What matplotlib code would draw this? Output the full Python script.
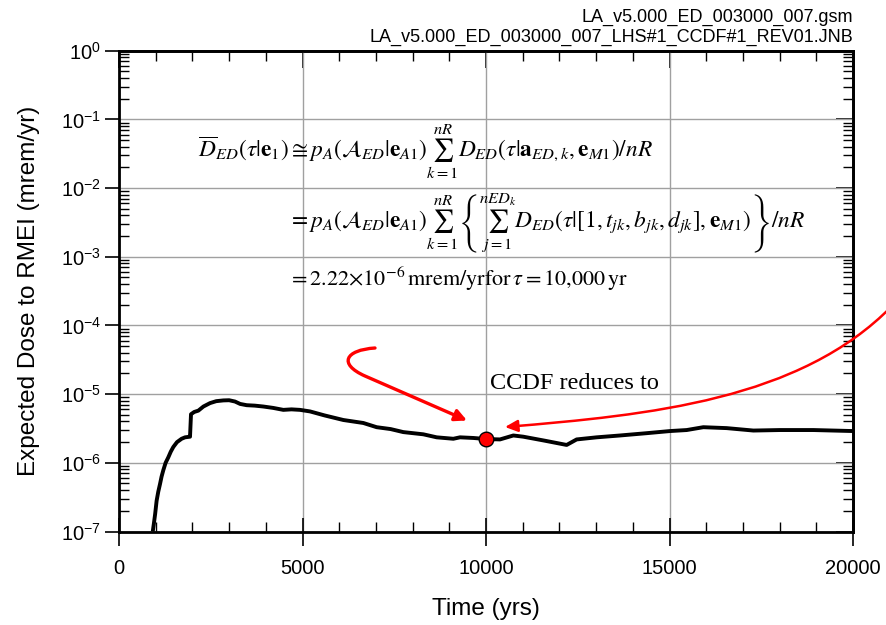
import matplotlib
matplotlib.use("Agg")
import matplotlib.pyplot as plt
from matplotlib.path import Path
from matplotlib.patches import FancyArrowPatch
from matplotlib.ticker import LogLocator, MultipleLocator, NullFormatter

plt.rcParams['font.family'] = ['Liberation Sans', 'DejaVu Sans']
plt.rcParams['mathtext.fontset'] = 'custom'
plt.rcParams['mathtext.rm'] = 'Liberation Sans'
plt.rcParams['mathtext.it'] = 'Liberation Sans:italic'
plt.rcParams['mathtext.bf'] = 'Liberation Sans:bold'
plt.rcParams['axes.unicode_minus'] = False

# Expected dose history (mrem/yr) versus time (yr)
time_yr = [920, 950, 985, 1025, 1070, 1117, 1160, 1207, 1270, 1343, 1410, 1480,
           1580, 1706, 1800, 1880, 1935, 1962, 2050, 2162, 2300, 2480, 2650,
           2843, 3000, 3161, 3300, 3479, 3700, 3933, 4200, 4478, 4700, 4932,
           5205, 5600, 6113, 6658, 7021, 7400, 7747, 8292, 8656, 9110, 9292,
           9655, 10000, 10381, 10745, 11017, 11600, 12198, 12470, 13015, 13651,
           14377, 15014, 15468, 15922, 16558, 17285, 18011, 18920, 20000]
dose = [1.0e-7, 1.3e-7, 1.8e-7, 2.8e-7, 3.8e-7, 4.9e-7, 6.3e-7, 7.8e-7, 1.0e-6,
        1.2e-6, 1.45e-6, 1.7e-6, 2.0e-6, 2.24e-6, 2.35e-6, 2.38e-6, 2.4e-6,
        5.1e-6, 5.5e-6, 5.75e-6, 6.6e-6, 7.4e-6, 7.9e-6, 8.1e-6, 8.15e-6,
        7.8e-6, 7.2e-6, 6.9e-6, 6.8e-6, 6.6e-6, 6.3e-6, 5.9e-6, 6.0e-6, 5.9e-6,
        5.6e-6, 4.9e-6, 4.2e-6, 3.8e-6, 3.3e-6, 3.1e-6, 2.8e-6, 2.6e-6, 2.35e-6,
        2.24e-6, 2.35e-6, 2.3e-6, 2.22e-6, 2.19e-6, 2.5e-6, 2.4e-6, 2.1e-6,
        1.82e-6, 2.19e-6, 2.35e-6, 2.5e-6, 2.7e-6, 2.9e-6, 3.0e-6, 3.3e-6,
        3.2e-6, 2.95e-6, 3.0e-6, 3.0e-6, 2.9e-6]

# Highlighted point: mean dose at tau = 10,000 yr
point_time = 10000
point_dose = 2.22e-6

x_ticks = [0, 5000, 10000, 15000, 20000]
x_label = "Time (yrs)"
y_label = "Expected Dose to RMEI (mrem/yr)"
title_lines = ["LA_v5.000_ED_003000_007.gsm",
               "LA_v5.000_ED_003000_007_LHS#1_CCDF#1_REV01.JNB"]
note_text = "CCDF reduces to"

W, H = 886, 625
fig = plt.figure(figsize=(W / 100, H / 100), dpi=100)
ax = fig.add_axes([119 / W, 1 - 531.5 / H, (853 - 119) / W, (531.5 - 50.7) / H])


def fx(px):
    return px / W


def fy(py):
    return 1 - py / H


ax.set_yscale('log')
ax.set_xlim(0, 20000)
ax.set_ylim(1e-7, 1)

ax.grid(True, which='major', color='#a0a0a0', linewidth=1.0)
ax.set_axisbelow(True)

ax.plot(time_yr, dose, color='black', linewidth=2.8, solid_joinstyle='round',
        solid_capstyle='butt', zorder=3)
ax.plot([point_time], [point_dose], 'o', markersize=10.5, markerfacecolor='#ff0000',
        markeredgecolor='black', markeredgewidth=1.0, zorder=5)

# ticks
ax.set_xticks(x_ticks)
ax.xaxis.set_minor_locator(MultipleLocator(1000))
ax.yaxis.set_major_locator(LogLocator(base=10, numticks=20))
ax.yaxis.set_minor_locator(LogLocator(base=10, subs=range(2, 10), numticks=20))
ax.yaxis.set_minor_formatter(NullFormatter())
ax.tick_params(axis='x', which='major', direction='inout', length=20, width=1.2,
               labelsize=14.5, pad=10, top=False)
ax.tick_params(axis='x', which='minor', direction='in', length=7, width=1.0, top=False)
ax.tick_params(axis='y', which='major', direction='out', length=10, width=1.2,
               labelsize=14.5, pad=3, right=False)
ax.tick_params(axis='y', which='minor', direction='in', length=7, width=1.0, right=False)

top = ax.secondary_xaxis('top')
top.set_xticks(x_ticks)
top.xaxis.set_minor_locator(MultipleLocator(1000))
top.tick_params(which='major', direction='in', length=12, width=1.2, labeltop=False)
top.tick_params(which='minor', direction='in', length=7, width=1.0)
top.spines['top'].set_linewidth(2)

right = ax.secondary_yaxis('right')
right.set_yscale('log')
right.yaxis.set_major_locator(LogLocator(base=10, numticks=20))
right.yaxis.set_minor_locator(LogLocator(base=10, subs=range(2, 10), numticks=20))
right.tick_params(which='major', direction='in', length=12, width=1.2, labelright=False)
right.tick_params(which='minor', direction='in', length=7, width=1.0, labelright=False)
right.spines['right'].set_linewidth(2)

for s in ax.spines.values():
    s.set_linewidth(2)

ax.set_xlabel(x_label, fontsize=17.5, labelpad=14)
ax.set_ylabel(y_label, fontsize=17.5, labelpad=15)

# file identifiers, top right
fig.text(fx(853), fy(17), title_lines[0], ha='right', va='center', fontsize=13)
fig.text(fx(853), fy(37), title_lines[1], ha='right', va='center', fontsize=13)

# equation block
eq1 = (r"$\overline{D}_{ED}(\tau|\mathbf{e}_1)\cong "
       r"p_A(\mathcal{A}_{ED}|\mathbf{e}_{A1})\sum_{k=1}^{nR}"
       r"D_{ED}(\tau|\mathbf{a}_{ED,k},\mathbf{e}_{M1})/nR$")
eq2 = (r"$=p_A(\mathcal{A}_{ED}|\mathbf{e}_{A1})\sum_{k=1}^{nR}"
       r"\left\{\sum_{j=1}^{nED_k}D_{ED}(\tau|[1,t_{jk},b_{jk},d_{jk}],"
       r"\mathbf{e}_{M1})\right\}/nR$")
eq3 = (r"$=2.22{\times}10^{-6}\,\mathrm{mrem/yrfor}\,\tau=10{,}000\,\mathrm{yr}$")
eq_size = 16.8
fig.text(fx(198), fy(157), eq1, ha='left', va='baseline', fontsize=eq_size,
         math_fontfamily='stix')
fig.text(fx(288), fy(228), eq2, ha='left', va='baseline', fontsize=eq_size,
         math_fontfamily='stix')
fig.text(fx(288), fy(286), eq3, ha='left', va='baseline', fontsize=16,
         math_fontfamily='stix')

# note
fig.text(fx(490), fy(389), note_text, ha='left', va='baseline', fontsize=17.5,
         family=['Liberation Serif', 'DejaVu Serif'])

# red arrows pointing at the highlighted point
def fig_path(pts, codes):
    return Path([(fx(x), fy(y)) for x, y in pts], codes)


p1 = fig_path([(375, 348), (345, 350), (338, 364), (365, 376), (467, 420.5)],
              [Path.MOVETO, Path.CURVE4, Path.CURVE4, Path.CURVE4, Path.LINETO])
a1 = FancyArrowPatch(path=p1, transform=fig.transFigure, color='#ff0000',
                     linewidth=2.4, arrowstyle='-|>,head_length=7,head_width=3.5',
                     shrinkA=0, shrinkB=0, zorder=6)
fig.add_artist(a1)

p2 = fig_path([(892, 306), (800, 400), (650, 415), (505, 427)],
              [Path.MOVETO, Path.CURVE4, Path.CURVE4, Path.CURVE4])
a2 = FancyArrowPatch(path=p2, transform=fig.transFigure, color='#ff0000',
                     linewidth=1.8, arrowstyle='-|>,head_length=7.5,head_width=3.5',
                     shrinkA=0, shrinkB=0, zorder=6)
fig.add_artist(a2)

fig.savefig("out.png", dpi=100)
